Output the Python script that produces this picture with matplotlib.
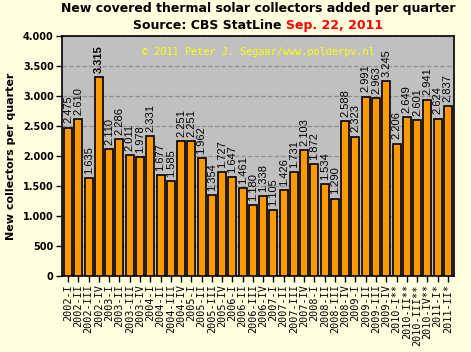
import numpy as np
import matplotlib
matplotlib.use('Agg')
import matplotlib.pyplot as plt

quarters = ['2002-I', '2002-II', '2002-III', '2002-IV',
            '2003-I', '2003-II', '2003-III', '2003-IV',
            '2004-I', '2004-II', '2004-III', '2004-IV',
            '2005-I', '2005-II', '2005-III', '2005-IV',
            '2006-I', '2006-II', '2006-III', '2006-IV',
            '2007-I', '2007-II', '2007-III', '2007-IV',
            '2008-I', '2008-II', '2008-III', '2008-IV',
            '2009-I', '2009-II', '2009-III', '2009-IV',
            '2010-I**', '2010-II**', '2010-III**', '2010-IV**',
            '2011-I*', '2011-II*']
collectors = [2475, 2610, 1635, 3315, 2110, 2286, 2011, 1978,
              2331, 1677, 1585, 2251, 2251, 1962, 1354, 1727,
              1647, 1461, 1180, 1338, 1105, 1426, 1731, 2103,
              1872, 1534, 1290, 2588, 2323, 2991, 2963, 3245,
              2206, 2649, 2601, 2941, 2624, 2837]
yticks = [0, 500, 1000, 1500, 2000, 2500, 3000, 3500, 4000]
peak = 3315


def fmt(v):
    return '{:,}'.format(v).replace(',', '.')


def main():
    bg = '#FFFFE0'
    fig = plt.figure(figsize=(4.71, 3.52), dpi=100, facecolor=bg)
    ax = fig.add_axes([62 / 471, 1 - 276 / 352, 392 / 471, 240 / 352])
    ax.set_facecolor('#C0C0C0')

    x = np.arange(len(quarters))
    ax.bar(x, collectors, width=0.78, color='#FF9900', edgecolor='black',
           linewidth=1.2, zorder=3)

    for xi, v in zip(x, collectors):
        ax.annotate(fmt(v), (xi, v), xytext=(0, 3), textcoords='offset points',
                    rotation=90, ha='center', va='bottom',
                    fontsize=8, family='Liberation Sans',
                    fontweight='bold' if v == peak else 'normal', zorder=4)

    ax.set_xlim(-0.6, len(quarters) - 0.4)
    ax.set_ylim(0, 4000)
    ax.set_yticks(yticks)
    ax.set_yticklabels([fmt(v) for v in yticks], fontsize=7,
                       fontweight='bold', family='DejaVu Sans')
    ax.set_xticks(x)
    ax.set_xticklabels(quarters, rotation=90, fontsize=7.3,
                       family='DejaVu Sans Mono')
    ax.tick_params(axis='both', length=4, width=1, color='black', pad=2)
    ax.grid(axis='y', linestyle='--', color='#909090', linewidth=0.9, zorder=1)
    for s in ax.spines.values():
        s.set_linewidth(1.2)

    ax.set_ylabel('New collectors per quarter', fontsize=8,
                  fontweight='bold', labelpad=5)

    ax.text(0.5, 0.935, '\u00a9 2011 Peter J. Segaar/www.polderpv.nl',
            transform=ax.transAxes, ha='center', va='center',
            color='#FFFF00', fontsize=7.4, family='DejaVu Sans Mono', zorder=5)

    cx = (62 + 392 / 2) / 471
    fig.text(cx, 0.995, 'New covered thermal solar collectors added per quarter',
             ha='center', va='top', fontsize=9, fontweight='bold')
    t1 = fig.text(cx, 0.945, 'Source: CBS StatLine ', ha='right', va='top',
                  fontsize=9, fontweight='bold', color='black')
    fig.canvas.draw()
    # put the red date right after the black source text, centred as a pair
    r = fig.canvas.get_renderer()
    w1 = t1.get_window_extent(r).width
    t2 = fig.text(cx, 0.945, 'Sep. 22, 2011', ha='left', va='top',
                  fontsize=9, fontweight='bold', color='red')
    w2 = t2.get_window_extent(r).width
    shift = (w1 - w2) / 2 / fig.bbox.width
    t1.set_x(cx + shift)
    t2.set_x(cx + shift)

    fig.savefig('out.png', dpi=100, facecolor=bg)


if __name__ == "__main__":
    main()
